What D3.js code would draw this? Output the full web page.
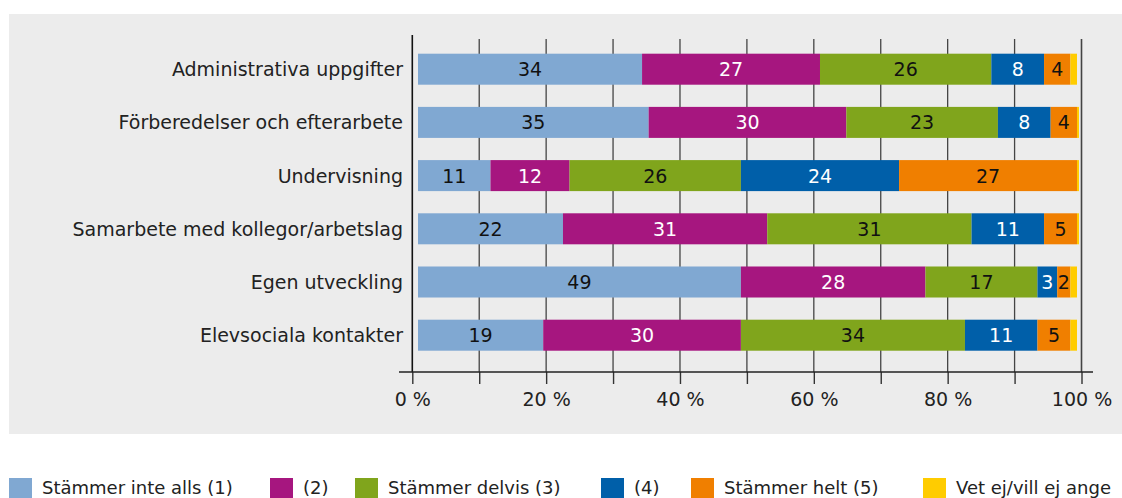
<!DOCTYPE html>
<html>
<head>
<meta charset="utf-8">
<script src="https://cdn.jsdelivr.net/npm/d3@7"></script>
<style>
  body { margin: 0; background: #fff; }
  svg text { font-family: "DejaVu Sans", sans-serif; }
</style>
</head>
<body>
<div id="chart"></div>
<script>
var categories = ["Administrativa uppgifter", "Förberedelser och efterarbete", "Undervisning",
  "Samarbete med kollegor/arbetslag", "Egen utveckling", "Elevsociala kontakter"];
var seriesNames = ["Stämmer inte alls (1)", "(2)", "Stämmer delvis (3)", "(4)", "Stämmer helt (5)", "Vet ej/vill ej ange"];

// procent per kategori, en lista per svarsalternativ
var s1 = [34, 35, 11, 22, 49, 19];
var s2 = [27, 30, 12, 31, 28, 30];
var s3 = [26, 23, 26, 31, 17, 34];
var s4 = [8, 8, 24, 11, 3, 11];
var s5 = [4, 4, 27, 5, 2, 5];
var s6 = [1, 0.3, 0.3, 0.3, 1, 1];
var seriesValues = [s1, s2, s3, s4, s5, s6];

var tickValues = [0, 10, 20, 30, 40, 50, 60, 70, 80, 90, 100];
var tickLabels = {0: "0 %", 20: "20 %", 40: "40 %", 60: "60 %", 80: "80 %", 100: "100 %"};

var colors = ["#80a8d2", "#a6167f", "#80a51c", "#005fa9", "#f07f00", "#ffcc00"];
var textColors = ["#111", "#fff", "#111", "#fff", "#111", "#111"];

var w = 1122, h = 498;
var svg = d3.select("#chart").append("svg")
  .attr("width", w)
  .attr("height", h);

// grå bakgrund
svg.append("rect")
  .attr("x", 9).attr("y", 14)
  .attr("width", w - 9).attr("height", 420)
  .attr("fill", "#ececec");

var xAxis = d3.scaleLinear().domain([0, 100]).range([412.3, 1081.5]);
var xBar = d3.scaleLinear().domain([0, 100]).range([418, 1077]);
var y = d3.scaleBand().domain(categories).range([42.6, 361.8]).paddingInner(0.417).paddingOuter(0.2085);

// rutnät
svg.append("g").selectAll("line")
  .data(tickValues)
  .enter()
  .append("line")
  .attr("x1", function(d) { return xAxis(d); })
  .attr("x2", function(d) { return xAxis(d); })
  .attr("y1", function(d) { return d == 0 ? 35 : 39; })
  .attr("y2", 372)
  .attr("stroke", function(d) { return d == 0 ? "#111" : "#444"; })
  .attr("stroke-width", function(d) { return d == 0 || d == 100 ? 1.6 : 1.3; });

// x-axel
var axis = svg.append("g")
  .attr("transform", "translate(0,372)")
  .call(d3.axisBottom(xAxis)
    .tickValues(tickValues)
    .tickSize(12)
    .tickPadding(9)
    .tickFormat(function(d) { return tickLabels[d] || ""; }));
axis.select(".domain").remove();
axis.append("line")
  .attr("x1", 399).attr("x2", 1093)
  .attr("y1", 0).attr("y2", 0)
  .attr("stroke", "#222").attr("stroke-width", 1.5);
axis.selectAll(".tick line").attr("stroke", "#333").attr("stroke-width", 1.4);
axis.selectAll(".tick text")
  .attr("font-size", "19px")
  .attr("fill", "#222")
  .style("font-family", "'DejaVu Sans', sans-serif");

// staplar
var rows = categories.map(function(c, i) {
  var start = 0;
  return seriesValues.map(function(vals, k) {
    var seg = {cat: c, k: k, x0: start, v: vals[i]};
    start += vals[i];
    return seg;
  });
});

var rowG = svg.append("g").selectAll("g")
  .data(rows)
  .enter()
  .append("g");

rowG.selectAll("rect")
  .data(function(d) { return d; })
  .enter()
  .append("rect")
  .attr("x", function(d) { return xBar(d.x0); })
  .attr("y", function(d) { return y(d.cat); })
  .attr("width", function(d) { return xBar(d.x0 + d.v) - xBar(d.x0); })
  .attr("height", y.bandwidth())
  .attr("fill", function(d) { return colors[d.k]; });

rowG.selectAll("text")
  .data(function(d) { return d.filter(function(s) { return s.k < 5; }); })
  .enter()
  .append("text")
  .text(function(d) { return d.v; })
  .attr("x", function(d) { return xBar(d.x0 + d.v / 2); })
  .attr("y", function(d) { return y(d.cat) + y.bandwidth() / 2 + 7; })
  .attr("text-anchor", "middle")
  .attr("font-size", "19px")
  .attr("fill", function(d) { return textColors[d.k]; });

// kategorietiketter
svg.append("g").selectAll("text")
  .data(categories)
  .enter()
  .append("text")
  .text(function(d) { return d; })
  .attr("x", 403)
  .attr("y", function(d) { return y(d) + y.bandwidth() / 2 + 7; })
  .attr("text-anchor", "end")
  .attr("font-size", "19px")
  .attr("fill", "#222");

// förklaring
var legendX = [9, 270, 355, 601, 691, 923];
var leg = svg.append("g").selectAll("g")
  .data(seriesNames)
  .enter()
  .append("g")
  .attr("transform", function(d, i) { return "translate(" + legendX[i] + ",478)"; });

leg.append("rect")
  .attr("width", 23).attr("height", 22)
  .attr("fill", function(d, i) { return colors[i]; });

leg.append("text")
  .text(function(d) { return d; })
  .attr("x", 33)
  .attr("y", 15.5)
  .attr("font-size", "18px")
  .attr("fill", "#222");
</script>
</body>
</html>
